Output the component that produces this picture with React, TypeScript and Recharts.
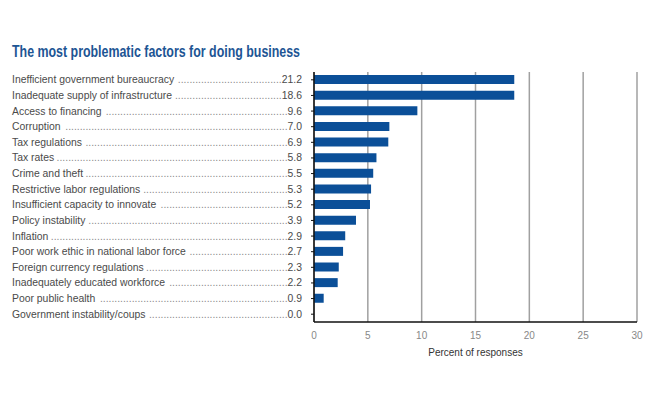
import { BarChart, Bar, XAxis, YAxis, CartesianGrid } from 'recharts'

const factors = [
  'Inefficient government bureaucracy',
  'Inadequate supply of infrastructure',
  'Access to financing',
  'Corruption',
  'Tax regulations',
  'Tax rates',
  'Crime and theft',
  'Restrictive labor regulations',
  'Insufficient capacity to innovate',
  'Policy instability',
  'Inflation',
  'Poor work ethic in national labor force',
  'Foreign currency regulations',
  'Inadequately educated workforce',
  'Poor public health',
  'Government instability/coups',
]

// printed value next to each label
const reported = [21.2, 18.6, 9.6, 7.0, 6.9, 5.8, 5.5, 5.3, 5.2, 3.9, 2.9, 2.7, 2.3, 2.2, 0.9, 0.0]

// bar length as drawn in the picture (the top bar stops at the same length as the second)
const drawn = [18.6, 18.6, 9.6, 7.0, 6.9, 5.8, 5.5, 5.3, 5.2, 3.9, 2.9, 2.7, 2.3, 2.2, 0.9, 0.0]

const xTicks = [0, 5, 10, 15, 20, 25, 30]

const data = factors.map((name, i) => ({ name, value: drawn[i] }))

const FONT = "'Liberation Sans', Arial, sans-serif"
const LABEL_SIZE = 10.4
const LABEL_X = 12
const VALUE_X = 302

let ctx: CanvasRenderingContext2D | null = null
function textWidth(s: string) {
  if (!ctx) ctx = document.createElement('canvas').getContext('2d')
  if (!ctx) return s.length * 5
  ctx.font = `${LABEL_SIZE}px ${FONT}`
  return ctx.measureText(s).width
}

function FactorTick(props: any) {
  const { y, payload, index } = props
  const label = payload.value as string
  const val = reported[index].toFixed(1)
  const start = LABEL_X + textWidth(label) + 2
  const end = VALUE_X - textWidth(val)
  const n = Math.max(0, Math.floor((end - start) / textWidth('.')))
  return (
    <g>
      <text x={LABEL_X} y={y} dy={3.5} fontSize={LABEL_SIZE} fontFamily={FONT} fill="#4a4a4a">
        {label}
      </text>
      <text x={end} y={y} dy={3.5} fontSize={LABEL_SIZE} fontFamily={FONT} fill="#8a8a8a" textAnchor="end">
        {'.'.repeat(n)}
      </text>
      <text x={VALUE_X} y={y} dy={3.5} fontSize={LABEL_SIZE} fontFamily={FONT} fill="#4a4a4a" textAnchor="end">
        {val}
      </text>
    </g>
  )
}

export default function App() {
  return (
    <div style={{ position: 'absolute', left: 0, top: 0, width: 653, height: 398, background: '#fff' }}>
      <svg width={653} height={70} style={{ position: 'absolute', left: 0, top: 0 }}>
        <text
          x={12}
          y={57}
          fontSize={16}
          fontWeight="bold"
          fontFamily="'Liberation Sans Narrow', 'Liberation Sans', Arial, sans-serif"
          fill="#1d5594"
          textLength={288}
          lengthAdjust="spacingAndGlyphs"
        >
          The most problematic factors for doing business
        </text>
      </svg>
      <BarChart
        width={653}
        height={398}
        data={data}
        layout="vertical"
        margin={{ top: 72, right: 16, bottom: 46, left: 0 }}
        barCategoryGap={3.5}
      >
        <CartesianGrid horizontal={false} vertical stroke="#a0a0a0" strokeWidth={1.5} />
        <XAxis
          type="number"
          domain={[0, 30]}
          ticks={xTicks}
          height={30}
          tickLine={false}
          tickMargin={4}
          axisLine={{ stroke: '#111', strokeWidth: 1.5 }}
          tick={{ fontSize: 10, fill: '#888', fontFamily: FONT }}
        />
        <YAxis
          type="category"
          dataKey="name"
          width={314}
          interval={0}
          tickSize={3}
          tickLine={{ stroke: '#111' }}
          axisLine={{ stroke: '#111', strokeWidth: 1.5 }}
          tick={<FactorTick />}
        />
        <Bar dataKey="value" fill="#0b4f98" barSize={9} isAnimationActive={false} />
      </BarChart>
      <div
        style={{
          position: 'absolute',
          left: 314,
          width: 323,
          top: 347,
          textAlign: 'center',
          fontSize: 10,
          fontFamily: FONT,
          color: '#333',
        }}
      >
        Percent of responses
      </div>
    </div>
  )
}
